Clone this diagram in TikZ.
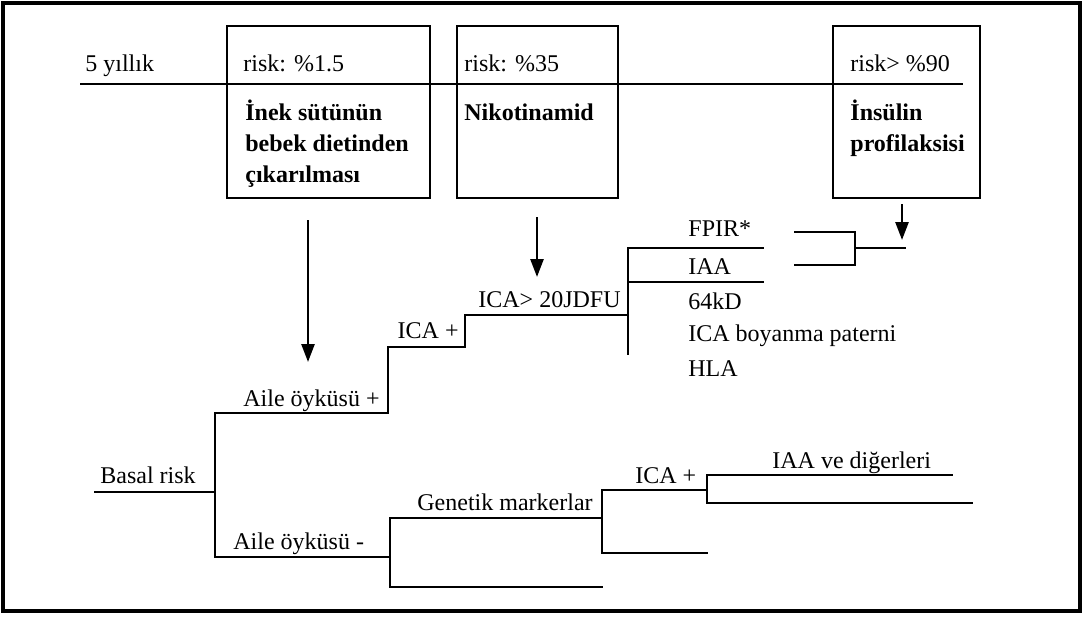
\documentclass[tikz,border=0pt]{standalone}
\usepackage{fontspec}
\setmainfont{Liberation Serif}
\usetikzlibrary{arrows.meta}

\begin{document}
\begin{tikzpicture}[
  x=0.5pt, y=-0.5pt,
  yazi/.style={font=\fontsize{12}{15.5}\selectfont, inner sep=0pt, anchor=base west},
  kalin/.style={yazi, font=\fontsize{12}{15.5}\selectfont\bfseries},
  kutu/.style={draw, line width=1pt, inner sep=0pt},
  dal/.style={line width=1.2pt, line cap=rect},
  ok/.style={line width=1.3pt, -{Triangle[length=9pt, width=6.5pt]}},
]
  \useasboundingbox (0,0) rectangle (1090,620);
  \draw[line width=2pt] (3,3) rectangle (1080,611);

  \node[kutu, minimum width=101.5pt, minimum height=86pt] (kutu1) at (328.5,112) {};
  \node[kutu, minimum width=80.5pt, minimum height=86pt] (kutu2) at (537.5,112) {};
  \node[kutu, minimum width=73.5pt, minimum height=86pt] (kutu3) at (906.5,112) {};

  \node[yazi] (yil) at (85,72) {5 yıllık};
  \node[yazi] (risk1) at (243,72) {risk: \%1.5};
  \node[yazi] (risk2) at (464,72) {risk: \%35};
  \node[yazi] (risk3) at (850,72) {risk> \%90};
  \coordinate (cizgi0) at (80,84);
  \coordinate (cizgi1) at (963,84);
  \draw[line width=1pt] (cizgi0) -- (cizgi1);

  \node[kalin] (onlem1a) at (245,121) {İnek sütünün};
  \node[kalin] (onlem1b) at (245,152) {bebek dietinden};
  \node[kalin] (onlem1c) at (245,183) {çıkarılması};
  \node[kalin] (onlem2) at (464,121) {Nikotinamid};
  \node[kalin] (onlem3a) at (850,121) {İnsülin};
  \node[kalin] (onlem3b) at (850,152) {profilaksisi};

  \coordinate (ok1a) at (308,220);
  \coordinate (ok1b) at (308,362);
  \coordinate (ok2a) at (537,217);
  \coordinate (ok2b) at (537,277);
  \coordinate (ok3a) at (902,204);
  \coordinate (ok3b) at (902,240);
  \draw[ok] (ok1a) -- (ok1b);
  \draw[ok] (ok2a) -- (ok2b);
  \draw[ok] (ok3a) -- (ok3b);

  \node[yazi] (basal) at (100,483) {Basal risk};
  \node[yazi, anchor=base east] (aile1) at (380,406) {Aile öyküsü +};
  \node[yazi, anchor=base east] (ica1) at (459,338) {ICA +};
  \node[yazi] (ica2) at (478,307) {ICA> 20JDFU};
  \node[yazi] (fpir) at (688,236) {FPIR*};
  \node[yazi] (iaa) at (688,274) {IAA};
  \node[yazi] (kd) at (688,309) {64kD};
  \node[yazi] (boya) at (688,341) {ICA boyanma paterni};
  \node[yazi] (hla) at (688,376) {HLA};
  \node[yazi] (aile2) at (233,549) {Aile öyküsü -};
  \node[yazi] (genetik) at (417,510) {Genetik markerlar};
  \node[yazi] (ica3) at (635,483) {ICA +};
  \node[yazi] (iaave) at (772,468) {IAA ve diğerleri};

  \coordinate (bas0) at (95,492);
  \coordinate (kok) at (215,492);
  \coordinate (kokust) at (215,413);
  \coordinate (kokalt) at (215,557);
  \coordinate (basamak1) at (388,413);
  \coordinate (basamak2) at (465,347);
  \coordinate (basamak3) at (628,315);
  \draw[dal] (bas0) -- (kok);
  \draw[dal] (kokust) -- (kokalt);
  \draw[dal] (kokust) -- (basamak1) |- (basamak2) |- (basamak3);

  \coordinate (sut0) at (628,248);
  \coordinate (sut1) at (628,354);
  \coordinate (sut2) at (628,282);
  \coordinate (fpirson) at (763,248);
  \coordinate (iaason) at (763,282);
  \draw[dal] (sut0) -- (sut1);
  \draw[dal] (sut0) -- (fpirson);
  \draw[dal] (sut2) -- (iaason);

  \coordinate (kose1) at (795,232);
  \coordinate (kose2) at (855,232);
  \coordinate (kose3) at (855,265);
  \coordinate (kose4) at (795,265);
  \coordinate (kosem) at (855,248);
  \coordinate (koseuc) at (905,248);
  \draw[dal] (kose1) -- (kose2) -- (kose3) -- (kose4);
  \draw[dal] (kosem) -- (koseuc);

  \coordinate (gen0) at (390,557);
  \coordinate (genust) at (390,518);
  \coordinate (genalt) at (390,587);
  \coordinate (genust1) at (602,518);
  \coordinate (genalt1) at (602,587);
  \draw[dal] (kokalt) -- (gen0);
  \draw[dal] (genust) -- (genalt);
  \draw[dal] (genust) -- (genust1);
  \draw[dal] (genalt) -- (genalt1);

  \coordinate (ica0) at (602,490);
  \coordinate (ica1son) at (707,490);
  \coordinate (icaalt) at (602,553);
  \coordinate (icaalt1) at (707,553);
  \draw[dal] (ica0) -- (icaalt);
  \draw[dal] (ica0) -- (ica1son);
  \draw[dal] (icaalt) -- (icaalt1);

  \coordinate (iaa0) at (707,475);
  \coordinate (iaa1) at (707,503);
  \coordinate (iaaust) at (952,475);
  \coordinate (iaaalt) at (972,503);
  \draw[dal] (iaa0) -- (iaa1);
  \draw[dal] (iaa0) -- (iaaust);
  \draw[dal] (iaa1) -- (iaaalt);
\end{tikzpicture}
\end{document}
